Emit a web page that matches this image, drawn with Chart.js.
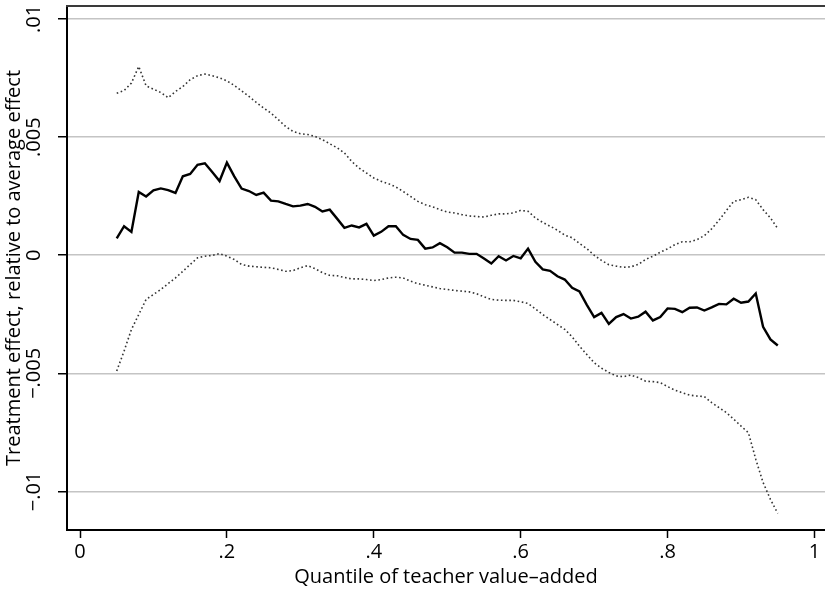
<!DOCTYPE html>
<html>
<head>
<meta charset="utf-8">
<script src="https://cdn.jsdelivr.net/npm/chart.js@4/dist/chart.umd.min.js"></script>
<style>
  body { margin: 0; background: #fff; }
  .container-canva { width: 825px; height: 590px; position: relative; }
</style>
</head>
<body>
<div class="container-canva"><canvas id="myChart"></canvas></div>
<script>
const quantiles = [
	0.05, 0.06, 0.07, 0.08, 0.09, 0.10, 0.11, 0.12, 0.13, 0.14,
	0.15, 0.16, 0.17, 0.18, 0.19, 0.20, 0.21, 0.22, 0.23, 0.24,
	0.25, 0.26, 0.27, 0.28, 0.29, 0.30, 0.31, 0.32, 0.33, 0.34,
	0.35, 0.36, 0.37, 0.38, 0.39, 0.40, 0.41, 0.42, 0.43, 0.44,
	0.45, 0.46, 0.47, 0.48, 0.49, 0.50, 0.51, 0.52, 0.53, 0.54,
	0.55, 0.56, 0.57, 0.58, 0.59, 0.60, 0.61, 0.62, 0.63, 0.64,
	0.65, 0.66, 0.67, 0.68, 0.69, 0.70, 0.71, 0.72, 0.73, 0.74,
	0.75, 0.76, 0.77, 0.78, 0.79, 0.80, 0.81, 0.82, 0.83, 0.84,
	0.85, 0.86, 0.87, 0.88, 0.89, 0.90, 0.91, 0.92, 0.93, 0.94,
	0.95,
];

// point estimate
const effect = [
	0.00071, 0.00123, 0.00099, 0.00268, 0.00249, 0.00275, 0.00283, 0.00276, 0.00264, 0.00334,
	0.00344, 0.00383, 0.00389, 0.00352, 0.00314, 0.00392, 0.00334, 0.00282, 0.00272, 0.00255,
	0.00265, 0.00231, 0.00228, 0.00217, 0.00207, 0.00210, 0.00217, 0.00205, 0.00185, 0.00193,
	0.00155, 0.00116, 0.00126, 0.00118, 0.00133, 0.00083, 0.00099, 0.00123, 0.00123, 0.00086,
	0.00069, 0.00065, 0.00028, 0.00033, 0.00051, 0.00034, 0.00011, 0.00011, 0.00006, 0.00006,
	-0.00014, -0.00035, -0.00004, -0.00022, -0.00003, -0.00013, 0.00028, -0.00028, -0.00060, -0.00066,
	-0.00089, -0.00103, -0.00138, -0.00153, -0.00210, -0.00262, -0.00244, -0.00291, -0.00262, -0.00249,
	-0.00268, -0.00260, -0.00239, -0.00276, -0.00262, -0.00225, -0.00227, -0.00241, -0.00222, -0.00221,
	-0.00234, -0.00221, -0.00206, -0.00208, -0.00184, -0.00201, -0.00196, -0.00162, -0.00303, -0.00356,
	-0.00382,
];

// confidence band
const upper = [
	0.00686, 0.00697, 0.00729, 0.00799, 0.00717, 0.00703, 0.00689, 0.00667, 0.00693, 0.00714,
	0.00743, 0.00760, 0.00767, 0.00760, 0.00751, 0.00738, 0.00719, 0.00696, 0.00672, 0.00647,
	0.00623, 0.00602, 0.00574, 0.00545, 0.00524, 0.00514, 0.00511, 0.00503, 0.00489, 0.00472,
	0.00455, 0.00433, 0.00397, 0.00369, 0.00348, 0.00327, 0.00313, 0.00303, 0.00289, 0.00270,
	0.00249, 0.00228, 0.00214, 0.00205, 0.00193, 0.00183, 0.00179, 0.00172, 0.00166, 0.00164,
	0.00162, 0.00169, 0.00175, 0.00175, 0.00179, 0.00190, 0.00186, 0.00158, 0.00139, 0.00123,
	0.00106, 0.00085, 0.00074, 0.00050, 0.00028, 0.00000, -0.00022, -0.00040, -0.00046, -0.00051,
	-0.00049, -0.00039, -0.00018, -0.00004, 0.00013, 0.00027, 0.00045, 0.00057, 0.00057, 0.00066,
	0.00083, 0.00112, 0.00148, 0.00189, 0.00228, 0.00235, 0.00245, 0.00235, 0.00193, 0.00158,
	0.00113,
];

const lower = [
	-0.00490, -0.00406, -0.00314, -0.00251, -0.00187, -0.00166, -0.00145, -0.00120, -0.00096, -0.00068,
	-0.00039, -0.00011, -0.00004, -0.00001, 0.00007, -0.00004, -0.00018, -0.00039, -0.00046, -0.00049,
	-0.00051, -0.00053, -0.00060, -0.00068, -0.00065, -0.00053, -0.00044, -0.00057, -0.00074, -0.00085,
	-0.00087, -0.00094, -0.00100, -0.00100, -0.00103, -0.00107, -0.00103, -0.00096, -0.00093, -0.00096,
	-0.00110, -0.00120, -0.00127, -0.00134, -0.00141, -0.00145, -0.00149, -0.00152, -0.00155, -0.00163,
	-0.00176, -0.00187, -0.00190, -0.00191, -0.00191, -0.00197, -0.00204, -0.00227, -0.00251, -0.00272,
	-0.00293, -0.00314, -0.00345, -0.00385, -0.00420, -0.00455, -0.00478, -0.00496, -0.00511, -0.00514,
	-0.00507, -0.00518, -0.00533, -0.00535, -0.00539, -0.00556, -0.00571, -0.00582, -0.00592, -0.00596,
	-0.00598, -0.00624, -0.00645, -0.00666, -0.00694, -0.00723, -0.00751, -0.00863, -0.00962, -0.01033,
	-0.01093,
];

const xTicks = [0, 0.2, 0.4, 0.6, 0.8, 1];
const xTickLabels = ["0", ".2", ".4", ".6", ".8", "1"];
const yTicks = [-0.01, -0.005, 0, 0.005, 0.01];
const yTickLabels = ["\u2212.01", "\u2212.005", "0", ".005", ".01"];

const fontFamily = "'Open Sans', 'Noto Sans', sans-serif";
const fontSize = 20;

const toPoints = (values) => quantiles.map((q, i) => ({ x: q, y: values[i] }));

// top line of the plot frame
const frameTop = {
	id: "frameTop",
	afterDraw(chart) {
		const { ctx, chartArea } = chart;
		ctx.save();
		ctx.strokeStyle = "#3a3a3a";
		ctx.lineWidth = 2;
		ctx.beginPath();
		ctx.moveTo(chartArea.left - 1, chartArea.top);
		ctx.lineTo(chartArea.right, chartArea.top);
		ctx.stroke();
		ctx.restore();
	},
};

const dotted = {
	borderColor: "#333",
	borderWidth: 1.6,
	borderDash: [1.6, 2.6],
	pointRadius: 0,
	tension: 0,
	fill: false,
};

new Chart(document.getElementById("myChart"), {
	type: "line",
	data: {
		datasets: [
			{ label: "upper", data: toPoints(upper), ...dotted },
			{ label: "lower", data: toPoints(lower), ...dotted },
			{
				label: "effect",
				data: toPoints(effect),
				borderColor: "#000",
				borderWidth: 2.4,
				pointRadius: 0,
				tension: 0,
				fill: false,
			},
		],
	},
	options: {
		responsive: true,
		maintainAspectRatio: false,
		animation: false,
		layout: { padding: { top: 6, right: 0, left: 0, bottom: 0 } },
		plugins: {
			legend: { display: false },
			tooltip: { enabled: false },
		},
		scales: {
			x: {
				type: "linear",
				min: -0.0177,
				max: 1.0143,
				afterBuildTicks: (scale) => {
					scale.ticks = xTicks.map((v) => ({ value: v }));
				},
				afterFit: (scale) => {
					scale.height = 60;
					scale.paddingLeft = 0;
					scale.paddingRight = 0;
				},
				grid: {
					drawOnChartArea: false,
					drawTicks: true,
					tickLength: 8,
					tickColor: "#000",
					tickWidth: 1.5,
				},
				border: { display: true, color: "#000", width: 2 },
				ticks: {
					color: "#000",
					padding: 2,
					font: { family: fontFamily, size: fontSize },
					callback: (value) => xTickLabels[xTicks.indexOf(value)],
				},
				title: {
					display: true,
					text: "Quantile of teacher value\u2013added",
					color: "#000",
					font: { family: fontFamily, size: fontSize },
					padding: { top: 0, bottom: 1 },
				},
			},
			y: {
				min: -0.01163,
				max: 0.01055,
				afterBuildTicks: (scale) => {
					scale.ticks = yTicks.map((v) => ({ value: v }));
				},
				afterFit: (scale) => {
					scale.width = 67;
					scale.paddingTop = 0;
					scale.paddingBottom = 0;
				},
				grid: {
					color: "#c4c4c4",
					lineWidth: 1.5,
					drawTicks: true,
					tickLength: 9,
					tickColor: "#000",
					tickWidth: 1.5,
				},
				border: { display: true, color: "#000", width: 2 },
				ticks: {
					color: "#000",
					minRotation: 90,
					maxRotation: 90,
					crossAlign: "center",
					padding: -1.5,
					font: { family: fontFamily, size: fontSize },
					callback: (value) => yTickLabels[yTicks.indexOf(value)],
				},
				title: {
					display: true,
					text: "Treatment effect, relative to average effect",
					color: "#000",
					font: { family: fontFamily, size: fontSize },
					padding: { top: 2, bottom: 0 },
				},
			},
		},
	},
	plugins: [frameTop],
});
</script>
</body>
</html>
